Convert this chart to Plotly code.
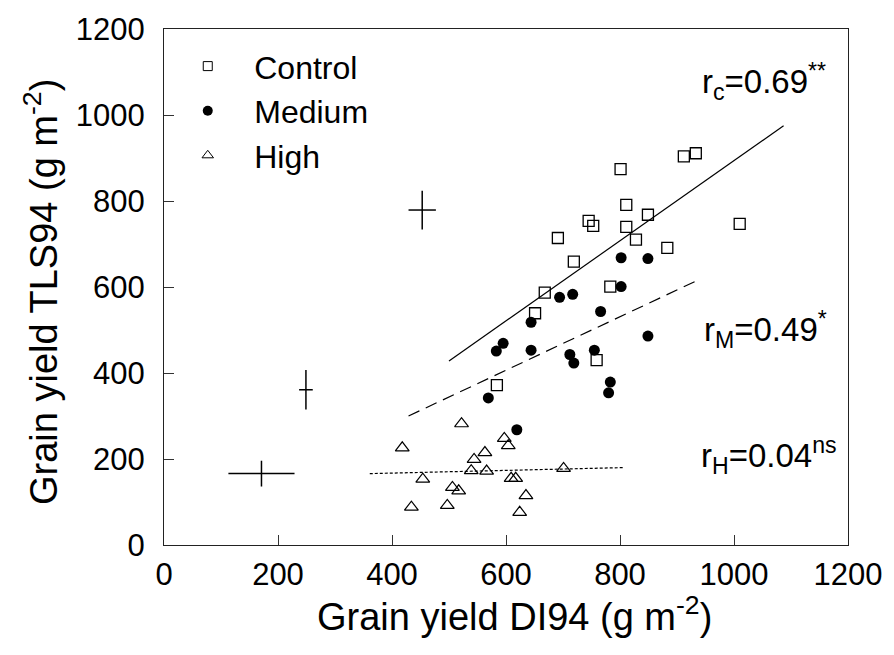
import plotly.graph_objects as go

# Grain yield under three stress levels: DI94 (x) vs TLS94 (y), g m^-2
ctrl_x = [912, 933, 801, 811, 849, 745, 753, 811, 1010, 691, 828, 883, 719, 783, 668, 651, 759, 584]
ctrl_y = [904, 911, 874, 791, 768, 754, 742, 740, 747, 714, 710, 691, 659, 601, 587, 539, 430, 372]

med_x = [802, 849, 802, 694, 717, 766, 644, 595, 583, 644, 712, 719, 755, 849, 783, 780, 569, 619]
med_y = [668, 666, 601, 576, 583, 543, 518, 469, 451, 453, 443, 423, 453, 486, 379, 354, 342, 268]

high_x = [522, 597, 604, 418, 563, 544, 539, 566, 701, 454, 609, 617, 506, 517, 635, 434, 497, 624]
high_y = [282, 248, 231, 226, 215, 199, 173, 172, 178, 153, 155, 155, 134, 126, 115, 88, 92, 76]

# Linear fits (end points of each regression line)
ctrl_fit_x = [500, 1087]
ctrl_fit_y = [428, 975]
med_fit_x = [429, 940]
med_fit_y = [300, 618]
high_fit_x = [361, 806]
high_fit_y = [166, 180]

# Standard error crosses (Control, Medium, High)
se_x = [453, 249, 171]
se_y = [779, 361, 166]
se_dx = [24, 12, 58]
se_dy = [45, 46, 30]

ticks = [0, 200, 400, 600, 800, 1000, 1200]

FONT = "Liberation Sans, Arial, Helvetica, sans-serif"
INK = "black"

fig = go.Figure()

fig.add_trace(go.Scatter(x=ctrl_x, y=ctrl_y, mode="markers", showlegend=False,
                         marker=dict(symbol="square-open", size=11, color=INK,
                                     line=dict(width=1.3, color=INK))))
fig.add_trace(go.Scatter(x=med_x, y=med_y, mode="markers", showlegend=False,
                         marker=dict(symbol="circle", size=11, color=INK,
                                     line=dict(width=0))))
fig.add_trace(go.Scatter(x=high_x, y=high_y, mode="markers", showlegend=False,
                         marker=dict(symbol="triangle-up-open", size=12, color=INK,
                                     line=dict(width=1.2, color=INK))))

fig.add_trace(go.Scatter(x=ctrl_fit_x, y=ctrl_fit_y, mode="lines", showlegend=False,
                         line=dict(color=INK, width=1.2)))
fig.add_trace(go.Scatter(x=med_fit_x, y=med_fit_y, mode="lines", showlegend=False,
                         line=dict(color=INK, width=1.2, dash="12px,7px")))
fig.add_trace(go.Scatter(x=high_fit_x, y=high_fit_y, mode="lines", showlegend=False,
                         line=dict(color=INK, width=1.2, dash="3px,2px")))

fig.add_trace(go.Scatter(
    x=se_x, y=se_y, mode="markers", showlegend=False,
    marker=dict(size=1, color="rgba(0,0,0,0)"),
    error_x=dict(type="data", array=se_dx, width=0, thickness=1.5, color=INK),
    error_y=dict(type="data", array=se_dy, width=0, thickness=1.5, color=INK),
))

# Legend entries with smaller symbols
fig.add_trace(go.Scatter(x=[None], y=[None], mode="markers", name="Control",
                         legendgroup="c",
                         marker=dict(symbol="square-open", size=9, color=INK,
                                     line=dict(width=1, color=INK))))
fig.add_trace(go.Scatter(x=[None], y=[None], mode="markers", name="Medium",
                         legendgroup="m",
                         marker=dict(symbol="circle", size=10, color=INK)))
fig.add_trace(go.Scatter(x=[None], y=[None], mode="markers", name="High",
                         legendgroup="h",
                         marker=dict(symbol="triangle-up-open", size=10, color=INK,
                                     line=dict(width=1, color=INK))))

ann_font = dict(family=FONT, size=33, color=INK)
fig.add_annotation(x=940, y=1078, xref="x", yref="y", xanchor="left", yanchor="middle",
                   text="r<sub>c</sub>=0.69<sup>**</sup>", showarrow=False, font=ann_font)
fig.add_annotation(x=944, y=501, xref="x", yref="y", xanchor="left", yanchor="middle",
                   text="r<sub>M</sub>=0.49<sup>*</sup>", showarrow=False, font=ann_font)
fig.add_annotation(x=938, y=209, xref="x", yref="y", xanchor="left", yanchor="middle",
                   text="r<sub>H</sub>=0.04<sup>ns</sup>", showarrow=False, font=ann_font)

# Axis titles
title_font = dict(family=FONT, size=38, color=INK)
fig.add_annotation(x=0.512, y=-0.133, xref="paper", yref="paper",
                   xanchor="center", yanchor="middle", showarrow=False,
                   text="Grain yield DI94 (g m<sup>-2</sup>)", font=title_font)
fig.add_annotation(x=-0.180, y=0.49, xref="paper", yref="paper",
                   xanchor="center", yanchor="middle", showarrow=False, textangle=-90,
                   text="Grain yield TLS94 (g m<sup>-2</sup>)", font=title_font)

axis_common = dict(
    showgrid=False, zeroline=False, showline=True, linecolor="#222", linewidth=1.2,
    mirror=True, ticks="inside", ticklen=10, tickwidth=1, tickcolor="#333",
    tickfont=dict(family=FONT, size=31, color=INK),
    tickvals=ticks, ticktext=[str(t) for t in ticks],
)

fig.update_xaxes(range=[0, 1200], ticklabelstandoff=2, **axis_common)
fig.update_yaxes(range=[0, 1200], ticklabelstandoff=12, **axis_common)

fig.update_layout(
    width=894, height=655,
    margin=dict(l=164, r=43, t=26, b=110),
    paper_bgcolor="white", plot_bgcolor="white",
    font=dict(family=FONT, color=INK),
    legend=dict(x=-0.004, y=0.981, xanchor="left", yanchor="top",
                bgcolor="rgba(0,0,0,0)", font=dict(family=FONT, size=32, color=INK),
                itemwidth=83, traceorder="grouped", tracegroupgap=0),
)

fig.write_html("out.html")
